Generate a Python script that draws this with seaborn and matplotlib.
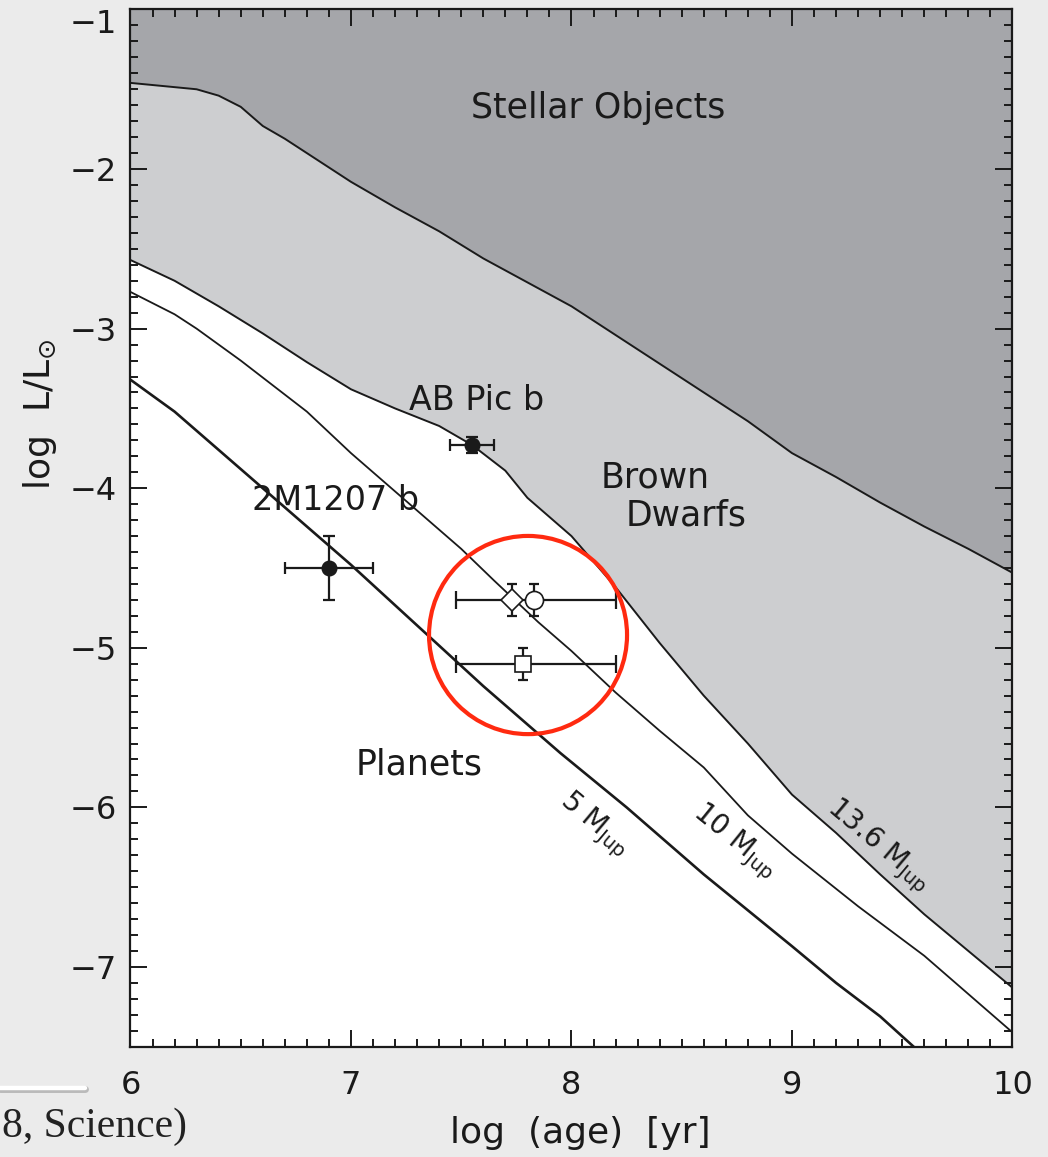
import matplotlib
matplotlib.use("Agg")
import matplotlib.pyplot as plt
from matplotlib.patches import Ellipse
from matplotlib.lines import Line2D
from matplotlib.ticker import MultipleLocator
import seaborn as sns
import pandas as pd

# Hydrogen-burning limit (upper edge of the brown dwarf band)
stellar_age = [6.0, 6.3, 6.4, 6.5, 6.6, 6.7, 6.8, 7.0, 7.2, 7.4, 7.6, 7.8, 8.0,
               8.2, 8.4, 8.6, 8.8, 9.0, 9.2, 9.4, 9.6, 9.8, 10.0]
stellar_lum = [-1.46, -1.50, -1.54, -1.61, -1.73, -1.81, -1.90, -2.08, -2.24,
               -2.39, -2.56, -2.71, -2.86, -3.04, -3.22, -3.40, -3.58, -3.78,
               -3.93, -4.09, -4.24, -4.38, -4.53]

# Cooling tracks for 13.6, 10 and 5 Jupiter masses
m136_age = [6.0, 6.2, 6.4, 6.6, 6.8, 7.0, 7.2, 7.4, 7.55, 7.7, 7.8, 8.0, 8.2,
            8.4, 8.6, 8.8, 9.0, 9.2, 9.4, 9.6, 9.8, 10.0]
m136_lum = [-2.57, -2.70, -2.86, -3.03, -3.21, -3.38, -3.50, -3.61, -3.73,
            -3.89, -4.06, -4.30, -4.62, -4.97, -5.30, -5.60, -5.92, -6.16,
            -6.42, -6.67, -6.90, -7.13]

m10_age = [6.0, 6.2, 6.3, 6.5, 6.8, 7.0, 7.25, 7.5, 7.65, 7.85, 8.0, 8.2, 8.4,
           8.6, 8.8, 9.0, 9.3, 9.6, 9.8, 10.0]
m10_lum = [-2.77, -2.91, -3.00, -3.20, -3.52, -3.78, -4.08, -4.38, -4.58,
           -4.84, -5.02, -5.28, -5.52, -5.75, -6.05, -6.29, -6.62, -6.93,
           -7.17, -7.41]

m5_age = [6.0, 6.2, 6.5, 6.75, 7.0, 7.3, 7.6, 7.95, 8.25, 8.6, 9.0, 9.2, 9.4, 9.6]
m5_lum = [-3.32, -3.52, -3.88, -4.18, -4.48, -4.86, -5.24, -5.66, -6.00,
          -6.42, -6.87, -7.10, -7.31, -7.56]

# Directly imaged companions (filled symbols)
comp_names = ["AB Pic b", "2M1207 b"]
comp_age = [7.55, 6.90]
comp_age_err = [0.10, 0.20]
comp_lum = [-3.73, -4.50]
comp_lum_err = [0.05, 0.20]

# HR 8799 planets (open symbols) and the shared age range
hr_marker = ["D", "o", "s"]
hr_age = [7.73, 7.83, 7.78]
hr_lum = [-4.70, -4.70, -5.10]
hr_lum_err = [0.10, 0.10, 0.10]
hr_row_lum = [-4.70, -5.10]
hr_age_mid = 7.78
hr_age_lo = 7.475
hr_age_hi = 8.20

x_ticks = [6, 7, 8, 9, 10]
y_ticks = [-7, -6, -5, -4, -3, -2, -1]

BG = "#ebebeb"
DARK = "#a5a6aa"
LIGHT = "#cdced0"
INK = "#1a1a1a"

sns.set_theme(style="ticks")
plt.rcParams["font.family"] = ["DejaVu Sans"]
plt.rcParams["mathtext.fontset"] = "dejavusans"

fig = plt.figure(figsize=(10.48, 11.57), dpi=100, facecolor=BG)
ax = fig.add_axes([0.1245, 0.0953, 0.8416, 0.8965])
ax.set_facecolor("white")

# Shaded domains
ax.fill_between(stellar_age, stellar_lum, 0, color=DARK, lw=0, zorder=0)
upper_on_grid = pd.Series(stellar_lum, index=stellar_age).reindex(
    sorted(set(stellar_age) | set(m136_age))).interpolate(method="index")
lower_on_grid = pd.Series(m136_lum, index=m136_age).reindex(
    upper_on_grid.index).interpolate(method="index")
ax.fill_between(upper_on_grid.index, lower_on_grid.values, upper_on_grid.values,
                color=LIGHT, lw=0, zorder=0)

tracks = [(stellar_age, stellar_lum, 1.4), (m136_age, m136_lum, 1.4),
          (m10_age, m10_lum, 1.3), (m5_age, m5_lum, 1.9)]
for ages, lums, lw in tracks:
    sns.lineplot(x=ages, y=lums, ax=ax, color=INK, lw=lw, sort=False,
                 estimator=None, zorder=2)

# Companions with error bars
for a, ae, l, le in zip(comp_age, comp_age_err, comp_lum, comp_lum_err):
    ax.errorbar(a, l, xerr=ae, yerr=le, fmt="o", color=INK, ms=10.5,
                elinewidth=1.6, capsize=4, capthick=1.6, zorder=4)

# HR 8799: age range bars, then the symbols with luminosity bars
for l in hr_row_lum:
    ax.errorbar(hr_age_mid, l,
                xerr=[[hr_age_mid - hr_age_lo], [hr_age_hi - hr_age_mid]],
                fmt="none", ecolor=INK, elinewidth=1.6, capsize=6.5,
                capthick=1.6, zorder=3)
hr_ms = {"D": 11.5, "o": 13, "s": 12}
for m, a, l, le in zip(hr_marker, hr_age, hr_lum, hr_lum_err):
    ax.errorbar(a, l, yerr=le, fmt="none", ecolor=INK, elinewidth=1.6,
                capsize=3.8, capthick=1.6, zorder=4)
    ax.plot(a, l, marker=m, ms=hr_ms[m], mfc="white", mec=INK, mew=1.2,
            ls="none", zorder=5)

# Highlight ring around the HR 8799 planets
ax.add_patch(Ellipse((7.803, -4.92), width=0.898, height=1.242, fill=False,
                     ec="#ff2a10", lw=3.0, zorder=6))

# Region and object labels
ax.text(8.12, -1.62, "Stellar Objects", fontsize=25, color=INK,
        ha="center", va="center")
ax.text(8.38, -3.93, "Brown", fontsize=25, color=INK, ha="center", va="center")
ax.text(8.52, -4.17, "Dwarfs", fontsize=25, color=INK, ha="center", va="center")
ax.text(7.31, -5.73, "Planets", fontsize=25, color=INK, ha="center", va="center")
ax.text(7.57, -3.45, comp_names[0], fontsize=24, color=INK,
        ha="center", va="center")
ax.text(6.93, -4.08, comp_names[1], fontsize=24, color=INK,
        ha="center", va="center")
ax.text(8.105, -6.11, "5 M$_{\\rm Jup}$", fontsize=20, color=INK,
        ha="center", va="center", rotation=-40)
ax.text(8.74, -6.21, "10 M$_{\\rm Jup}$", fontsize=20, color=INK,
        ha="center", va="center", rotation=-39)
ax.text(9.39, -6.24, "13.6 M$_{\\rm Jup}$", fontsize=20, color=INK,
        ha="center", va="center", rotation=-40)

# Axes, ticks and labels
ax.set_xlim(6, 10)
ax.set_ylim(-7.5, -1)
ax.set_xticks(x_ticks)
ax.set_yticks(y_ticks)
ax.xaxis.set_minor_locator(MultipleLocator(0.1))
ax.yaxis.set_minor_locator(MultipleLocator(0.1))
ax.tick_params(which="both", direction="in", top=True, right=True,
               color=INK, width=1.4, labelcolor=INK, labelsize=23)
ax.tick_params(which="major", length=12)
ax.tick_params(which="minor", length=6)
ax.tick_params(axis="x", which="major", pad=17)
ax.tick_params(axis="y", which="major", pad=10)
for s in ax.spines.values():
    s.set_visible(True)
    s.set_color(INK)
    s.set_linewidth(1.6)

# Keep the topmost y label inside the figure by hanging it below its tick
ax.yaxis.get_major_ticks()[-1].label1.set_va("top")

ax.set_xlabel("log  (age)  [yr]", fontsize=26, color=INK)
ax.xaxis.set_label_coords(0.51, -0.083)
ax.xaxis.label.set_va("center")
ax.set_ylabel("log  L/L$_{\\odot}$", fontsize=26, color=INK, va="center")
ax.yaxis.set_label_coords(-0.103, 0.61)

# Slide fragments beneath the chart
fig.text(0.002, 0.017, "8, Science)", fontsize=30, color="#222222",
         family=["Liberation Serif", "DejaVu Serif"], ha="left", va="baseline")
fig.add_artist(Line2D([0.0, 0.081], [0.0585, 0.0585], transform=fig.transFigure,
                      color="#9a9a9a", lw=5, alpha=0.6, solid_capstyle="round"))
fig.add_artist(Line2D([0.0, 0.081], [0.0595, 0.0595], transform=fig.transFigure,
                      color="white", lw=3.2, solid_capstyle="round"))

fig.savefig("out.png", dpi=100, facecolor=BG)
